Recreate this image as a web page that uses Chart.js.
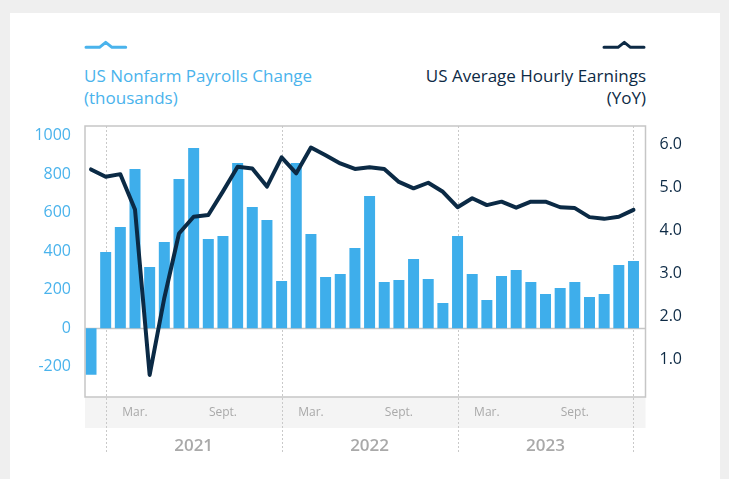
<!DOCTYPE html>
<html>
<head>
<meta charset="utf-8">
<script src="https://cdn.jsdelivr.net/npm/chart.js@4/dist/chart.umd.min.js"></script>
<style>
  html, body { margin:0; padding:0; }
  body { width:729px; height:479px; background:#efefef; position:relative; overflow:hidden; font-family:"Open Sans", sans-serif; }
  #card { position:absolute; left:10px; top:13px; width:710px; height:466px; background:#ffffff; }
  #chart { position:absolute; left:0; top:0; }
  .leg { position:absolute; font-size:17px; line-height:22px; white-space:nowrap; }
  #legL { left:84px; top:65px; color:#4ab3ec; }
  #legR { right:83px; top:65px; color:#0d2a45; text-align:right; }
  svg { position:absolute; left:0; top:0; }
</style>
</head>
<body>
<div id="card"></div>
<svg width="729" height="60">
  <path d="M86 47.3 L99.5 47.3 L105.7 42.3 L112 47.3 L125.7 47.3" fill="none" stroke="#4ab3ec" stroke-width="3" stroke-linecap="round" stroke-linejoin="round"/>
  <path d="M604 47.3 L618 47.3 L624.3 42.3 L630.5 47.3 L644 47.3" fill="none" stroke="#0d2a45" stroke-width="3" stroke-linecap="round" stroke-linejoin="round"/>
</svg>
<div class="leg" id="legL">US Nonfarm Payrolls Change<br>(thousands)</div>
<div class="leg" id="legR">US Average Hourly Earnings<br>(YoY)</div>
<canvas id="chart" width="729" height="479"></canvas>
<script>
// ---- data ----
const months = ['2020-12','2021-01','2021-02','2021-03','2021-04','2021-05','2021-06','2021-07','2021-08','2021-09','2021-10','2021-11','2021-12',
                '2022-01','2022-02','2022-03','2022-04','2022-05','2022-06','2022-07','2022-08','2022-09','2022-10','2022-11','2022-12',
                '2023-01','2023-02','2023-03','2023-04','2023-05','2023-06','2023-07','2023-08','2023-09','2023-10','2023-11','2023-12','2024-01'];
const payrolls = [-241, 396, 526, 827, 318, 448, 775, 937, 464, 479, 859, 630, 563,
                  246, 859, 490, 266, 282, 417, 687, 240, 251, 360, 256, 131,
                  479, 282, 147, 272, 303, 240, 178, 209, 240, 163, 178, 329, 350];
const earnings = [5.41, 5.24, 5.30, 4.48, 0.63, 2.42, 3.92, 4.31, 4.35, 4.90, 5.47, 5.43, 5.01,
                  5.69, 5.32, 5.92, 5.74, 5.55, 5.42, 5.46, 5.42, 5.12, 4.97, 5.10, 4.89,
                  4.53, 4.74, 4.58, 4.66, 4.52, 4.66, 4.66, 4.53, 4.51, 4.30, 4.26, 4.31, 4.47];
const monthTickKeys = ['2021-03','2021-09','2022-03','2022-09','2023-03','2023-09'];
const monthTickLabels = ['Mar.','Sept.','Mar.','Sept.','Mar.','Sept.'];
const yearStarts = ['2021-01','2022-01','2023-01','2024-01'];
const yearLabels = ['2021','2022','2023'];
const leftTicks = [-200, 0, 200, 400, 600, 800, 1000];
const rightTicks = [1.0, 2.0, 3.0, 4.0, 5.0, 6.0];

// ---- derived ----
const idx = k => months.indexOf(k);
const barData = payrolls.map((v, i) => ({x: i, y: v}));
const lineData = earnings.map((v, i) => ({x: i, y: v}));
const monthTickIdx = monthTickKeys.map(idx);
const yearStartIdx = yearStarts.map(idx);
const yearMidIdx = yearLabels.map((_, i) => (yearStartIdx[i] + yearStartIdx[i+1]) / 2);

const X_MIN = -0.41, X_MAX = 37.82;

const decor = {
  id: 'decor',
  beforeDraw(chart) {
    const {ctx, chartArea: a, scales} = chart;
    ctx.save();
    // band under plot
    ctx.fillStyle = '#f4f4f4';
    ctx.fillRect(a.left, a.bottom, a.right - a.left, 31);
    // dotted year separators
    ctx.strokeStyle = '#c9c9c9';
    ctx.lineWidth = 1;
    ctx.setLineDash([2, 2]);
    yearStartIdx.forEach(i => {
      const x = Math.round(scales.x.getPixelForValue(i)) + 0.5;
      ctx.beginPath();
      ctx.moveTo(x, a.top);
      ctx.lineTo(x, a.bottom + 56);
      ctx.stroke();
    });
    ctx.setLineDash([]);
    // zero line
    const y0 = Math.round(scales.y.getPixelForValue(0)) + 0.5;
    ctx.strokeStyle = '#c6c6c6';
    ctx.lineWidth = 1.5;
    ctx.beginPath();
    ctx.moveTo(a.left, y0);
    ctx.lineTo(a.right, y0);
    ctx.stroke();
    ctx.restore();
  },
  afterDraw(chart) {
    const {ctx, chartArea: a} = chart;
    ctx.save();
    ctx.strokeStyle = '#c6c6c6';
    ctx.lineWidth = 1.5;
    ctx.strokeRect(a.left, a.top, a.right - a.left, a.bottom - a.top);
    ctx.restore();
  }
};

new Chart(document.getElementById('chart'), {
  data: {
    datasets: [
      { type: 'line', label: 'US Average Hourly Earnings (YoY)', data: lineData, yAxisID: 'y1', xAxisID: 'x',
        borderColor: '#0b2a45', borderWidth: 4, pointRadius: 0, tension: 0, borderJoinStyle: 'round', borderCapStyle: 'round', order: 0 },
      { type: 'bar', label: 'US Nonfarm Payrolls Change (thousands)', data: barData, yAxisID: 'y', xAxisID: 'x',
        backgroundColor: '#3eaeeb', borderWidth: 0, barPercentage: 0.75, categoryPercentage: 1, order: 1 }
    ]
  },
  options: {
    responsive: false,
    animation: false,
    events: [],
    layout: { padding: { top: 126, left: 0, right: 0, bottom: 0 } },
    plugins: { legend: { display: false }, tooltip: { enabled: false } },
    scales: {
      x: {
        type: 'linear', position: 'bottom', min: X_MIN, max: X_MAX, offset: false,
        grid: { display: false, drawTicks: false, offset: false }, border: { display: false },
        afterBuildTicks: s => { s.ticks = monthTickIdx.map(v => ({value: v})); },
        afterFit: s => { s.height = 31; },
        ticks: { autoSkip: false, maxRotation: 0, padding: 8, color: '#a9a9a9',
                 font: { family: 'Open Sans', size: 12 },
                 callback: (v) => monthTickLabels[monthTickIdx.indexOf(v)] }
      },
      x2: {
        type: 'linear', position: 'bottom', min: X_MIN, max: X_MAX, offset: false,
        grid: { display: false, drawTicks: false }, border: { display: false },
        afterBuildTicks: s => { s.ticks = yearMidIdx.map(v => ({value: v})); },
        afterFit: s => { s.height = 51; },
        ticks: { autoSkip: false, maxRotation: 0, padding: 8, color: '#a9a9a9',
                 font: { family: 'Open Sans', size: 17, weight: '600' },
                 callback: (v) => yearLabels[yearMidIdx.indexOf(v)] }
      },
      y: {
        type: 'linear', position: 'left', min: -357, max: 1051,
        grid: { display: false, drawTicks: false }, border: { display: false },
        afterBuildTicks: s => { s.ticks = leftTicks.map(v => ({value: v})); },
        afterFit: s => { s.width = 85; },
        ticks: { padding: 14, color: '#4ab3ec', font: { family: 'Open Sans', size: 16 },
                 callback: v => String(v) }
      },
      y1: {
        type: 'linear', position: 'right', min: 0.116, max: 6.42,
        grid: { display: false, drawTicks: false }, border: { display: false },
        afterBuildTicks: s => { s.ticks = rightTicks.map(v => ({value: v})); },
        afterFit: s => { s.width = 83.5; },
        ticks: { padding: 14, color: '#0d2a45', font: { family: 'Open Sans', size: 16 },
                 callback: v => Number(v).toFixed(1) }
      }
    }
  },
  plugins: [decor]
});
</script>
</body>
</html>
